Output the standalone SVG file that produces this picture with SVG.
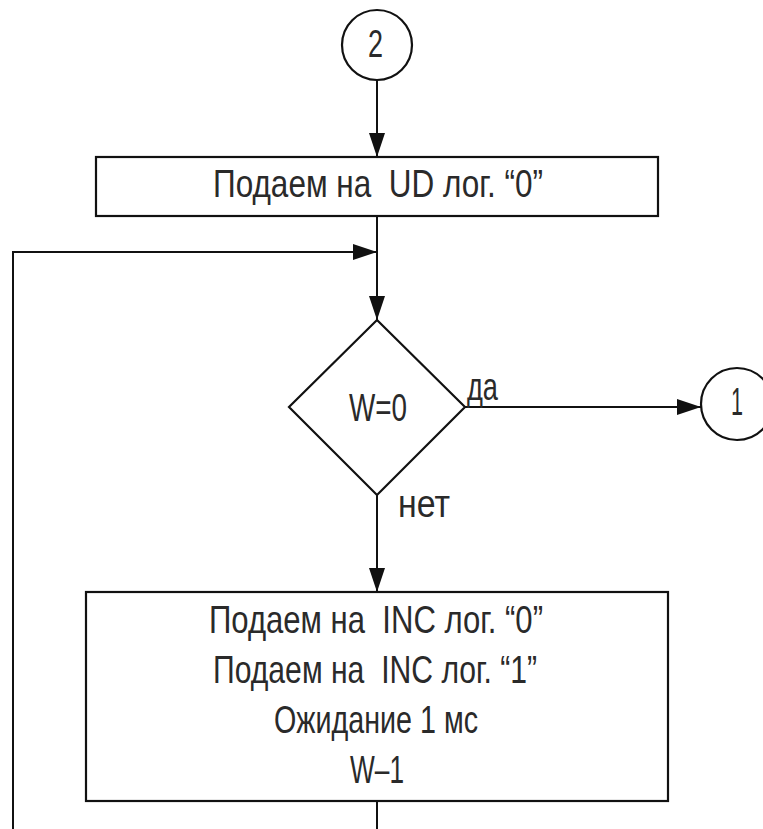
<svg xmlns="http://www.w3.org/2000/svg" width="763" height="829" viewBox="0 0 763 829">
<style>
.s{fill:#fff;stroke:#111;stroke-width:2.2}
.l{fill:none;stroke:#111;stroke-width:2}
.t{font-family:"Liberation Sans",Arial,sans-serif;font-size:39px;fill:#2a2a2a}
</style>
<defs>
<marker id="ah" markerWidth="24" markerHeight="16" refX="24" refY="8" orient="auto" markerUnits="userSpaceOnUse">
<path d="M0,0 L24,8 L0,16 Z" fill="#111"/>
</marker>
</defs>
<rect width="763" height="829" fill="#fff"/>
<g id="connectors">
<line class="l" x1="377" y1="80" x2="377" y2="157" marker-end="url(#ah)"/>
<line class="l" x1="377" y1="216" x2="377" y2="320" marker-end="url(#ah)"/>
<polyline class="l" points="13,829 13,252 377,252" marker-end="url(#ah)"/>
<line class="l" x1="465" y1="407" x2="701" y2="407" marker-end="url(#ah)"/>
<line class="l" x1="377" y1="495" x2="377" y2="592" marker-end="url(#ah)"/>
<line class="l" x1="377" y1="801" x2="377" y2="829"/>
<text class="t" x="467" y="400" textLength="31" lengthAdjust="spacingAndGlyphs">да</text>
<text class="t" x="398" y="517" textLength="52" lengthAdjust="spacingAndGlyphs">нет</text>
</g>
<g id="start2">
<circle class="s" cx="377" cy="45" r="35"/>
<text class="t" x="368" y="57" textLength="15" lengthAdjust="spacingAndGlyphs">2</text>
</g>
<g id="box1">
<rect class="s" x="96" y="157" width="562" height="59"/>
<text class="t" x="213" y="197" textLength="330" lengthAdjust="spacingAndGlyphs" xml:space="preserve">Подаем на  UD лог. “0”</text>
</g>
<g id="decision">
<polygon class="s" points="377,320 465,407 377,495 289,407"/>
<text class="t" x="349" y="421" textLength="58" lengthAdjust="spacingAndGlyphs">W=0</text>
</g>
<g id="end1">
<circle class="s" cx="737" cy="404" r="36"/>
<text class="t" x="731" y="415" textLength="12" lengthAdjust="spacingAndGlyphs">1</text>
</g>
<g id="box2">
<rect class="s" x="86" y="592" width="582" height="209"/>
<text class="t" x="209" y="633" textLength="334" lengthAdjust="spacingAndGlyphs" xml:space="preserve">Подаем на  INC лог. “0”</text>
<text class="t" x="213" y="683" textLength="324" lengthAdjust="spacingAndGlyphs" xml:space="preserve">Подаем на  INC лог. “1”</text>
<text class="t" x="274" y="733" textLength="204" lengthAdjust="spacingAndGlyphs">Ожидание 1 мс</text>
<text class="t" x="350" y="783" textLength="54" lengthAdjust="spacingAndGlyphs">W–1</text>
</g>
</svg>
